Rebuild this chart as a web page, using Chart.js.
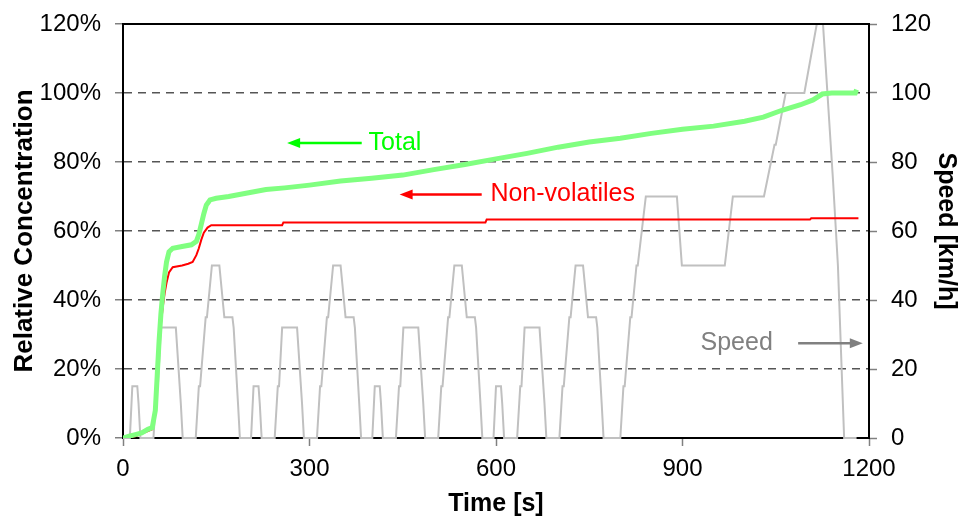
<!DOCTYPE html>
<html>
<head>
<meta charset="utf-8">
<script src="https://cdn.jsdelivr.net/npm/chart.js@4/dist/chart.umd.min.js"></script>
<style>
  html, body { margin: 0; padding: 0; background: #fff; }
  canvas { display: block; }
</style>
</head>
<body>
<canvas id="chart" width="960" height="522"></canvas>
<script>
'use strict';

// Total particle concentration, relative (%)
const totalTime = [0, 10, 20, 30, 40, 47, 52, 55, 58, 61, 64, 67, 70, 74, 80, 95, 110, 118, 122, 126, 130, 134, 140, 150, 170, 200, 230, 260, 300, 350, 400, 450, 500, 550, 600, 650, 700, 750, 800, 850, 900, 950, 1000, 1030, 1060, 1090, 1110, 1125, 1140, 1160, 1178, 1180];
const totalPct  = [0, 0.5, 1, 1.5, 2.5, 3, 8, 18, 28, 36, 42, 47, 51, 54, 55, 55.5, 56, 57, 59, 62, 65, 67.5, 69, 69.5, 70, 71, 72, 72.5, 73.3, 74.5, 75.3, 76.2, 77.8, 79.3, 80.9, 82.5, 84.3, 85.8, 86.9, 88.3, 89.5, 90.4, 91.8, 93, 95, 96.6, 98, 99.7, 100, 100, 100, 101];

// Non-volatile fraction, relative (%)
const nonvolTime = [0, 20, 40, 47, 52, 55, 58, 61, 64, 67, 70, 74, 80, 95, 105, 112, 118, 122, 126, 130, 136, 142, 256, 258, 583, 585, 1105, 1107, 1183];
const nonvolPct  = [0, 0.5, 2, 2.5, 8, 18, 27, 33, 38, 42, 45, 48, 49.5, 50, 50.5, 51, 53, 55, 57.5, 59.5, 61, 61.7, 61.7, 62.5, 62.5, 63.3, 63.3, 63.7, 63.7];

// Vehicle speed (km/h) over the driving cycle
const speedTime = [
  0, 11, 15, 23, 25, 28, 49, 54, 56, 61, 85, 93, 96, 117, 122, 124, 133, 135, 143, 155, 163, 176, 178, 185, 188,
  195, 206, 210, 218, 220, 223, 244, 249, 251, 256, 280, 288, 291, 312, 317, 319, 328, 330, 338, 350, 358, 371, 373, 380, 383,
  390, 401, 405, 413, 415, 418, 439, 444, 446, 451, 475, 483, 486, 507, 512, 514, 523, 525, 533, 545, 553, 566, 568, 575, 578,
  585, 596, 600, 608, 610, 613, 634, 639, 641, 646, 670, 678, 681, 702, 707, 709, 718, 720, 728, 740, 748, 761, 763, 770, 773,
  780, 800, 805, 807, 816, 818, 826, 828, 841, 891, 899, 968, 981, 1031, 1048, 1050, 1066, 1096, 1116, 1126, 1142, 1150, 1160, 1180
];
const speedKmh = [
  0, 0, 15, 15, 10, 0, 0, 15, 15, 32, 32, 10, 0, 0, 15, 15, 35, 35, 50, 50, 35, 35, 32, 10, 0,
  0, 0, 15, 15, 10, 0, 0, 15, 15, 32, 32, 10, 0, 0, 15, 15, 35, 35, 50, 50, 35, 35, 32, 10, 0,
  0, 0, 15, 15, 10, 0, 0, 15, 15, 32, 32, 10, 0, 0, 15, 15, 35, 35, 50, 50, 35, 35, 32, 10, 0,
  0, 0, 15, 15, 10, 0, 0, 15, 15, 32, 32, 10, 0, 0, 15, 15, 35, 35, 50, 50, 35, 35, 32, 10, 0,
  0, 0, 15, 15, 35, 35, 50, 50, 70, 70, 50, 50, 70, 70, 85, 85, 100, 100, 120, 120, 75, 50, 0, 0
];

const xTicks = [0, 300, 600, 900, 1200];
const pctTicks = [0, 20, 40, 60, 80, 100, 120];
const speedTicks = [0, 20, 40, 60, 80, 100, 120];

const pts = (xs, ys) => xs.map((x, i) => ({ x, y: ys[i] }));
const FONT = '"Liberation Sans", Arial, sans-serif';

// arrows + text labels next to the curves
const labelsPlugin = {
  id: 'curveLabels',
  afterDatasetsDraw(chart) {
    const { ctx, scales: { x, y }, chartArea: a } = chart;
    ctx.save();
    // solid frame top
    ctx.strokeStyle = '#000';
    ctx.lineWidth = 2;
    ctx.beginPath();
    ctx.moveTo(a.left, a.top);
    ctx.lineTo(a.right, a.top);
    ctx.stroke();

    const arrow = (x0, x1, yy, color) => {
      const px0 = x.getPixelForValue(x0), px1 = x.getPixelForValue(x1), py = y.getPixelForValue(yy);
      const dir = Math.sign(px1 - px0);
      ctx.strokeStyle = color;
      ctx.fillStyle = color;
      ctx.lineWidth = 2.5;
      ctx.beginPath();
      ctx.moveTo(px0, py);
      ctx.lineTo(px1 - dir * 8, py);
      ctx.stroke();
      ctx.beginPath();
      ctx.moveTo(px1, py);
      ctx.lineTo(px1 - dir * 13, py - 5);
      ctx.lineTo(px1 - dir * 13, py + 5);
      ctx.closePath();
      ctx.fill();
    };
    const text = (str, tx, ty, color) => {
      ctx.fillStyle = color;
      ctx.font = '25px ' + FONT;
      ctx.textAlign = 'left';
      ctx.textBaseline = 'middle';
      ctx.fillText(str, x.getPixelForValue(tx), y.getPixelForValue(ty));
    };
    arrow(384, 264, 85.5, '#00ff00');
    text('Total', 395, 85.5, '#00ff00');
    arrow(577, 445, 70.6, '#ff0000');
    text('Non-volatiles', 591, 70.6, '#ff0000');
    arrow(1086, 1190, 27.5, '#808080');
    text('Speed', 929, 27.5, '#808080');
    ctx.restore();
  }
};

// fixed box sizes so the plot area sits where it does in the original
const fitY = w => s => { s.width = w; s.paddingTop = 0; s.paddingBottom = 0; };

new Chart(document.getElementById('chart'), {
  type: 'line',
  data: {
    datasets: [
      { label: 'Total', data: pts(totalTime, totalPct), yAxisID: 'y',
        borderColor: '#80ff80', borderWidth: 5, pointRadius: 0 },
      { label: 'Non-volatiles', data: pts(nonvolTime, nonvolPct), yAxisID: 'y',
        borderColor: '#ff0000', borderWidth: 2, pointRadius: 0 },
      { label: 'Speed', data: pts(speedTime, speedKmh), yAxisID: 'y1',
        borderColor: '#c0c0c0', borderWidth: 2, pointRadius: 0, clip: 3 },
    ],
  },
  options: {
    responsive: false,
    animation: false,
    layout: { padding: { top: 24, left: 0, right: 0, bottom: 0 } },
    plugins: { legend: { display: false }, tooltip: { enabled: false } },
    scales: {
      x: {
        type: 'linear', min: 0, max: 1200,
        afterFit: s => { s.height = 84; },
        afterBuildTicks: s => { s.ticks = xTicks.map(v => ({ value: v })); },
        grid: { drawOnChartArea: false, tickLength: 8, tickColor: '#808080', tickWidth: 1.5 },
        border: { color: '#000', width: 2 },
        ticks: { color: '#000', padding: 9, font: { family: FONT, size: 24 }, callback: v => String(v) },
        title: { display: true, text: 'Time [s]', color: '#000', padding: { top: 0, bottom: 3 },
          font: { family: FONT, size: 25, weight: 'bold', lineHeight: 1.2 } },
      },
      y: {
        position: 'left', min: 0, max: 120,
        afterFit: fitY(123),
        afterBuildTicks: s => { s.ticks = pctTicks.map(v => ({ value: v })); },
        grid: {
          color: c => (c.tick && (c.tick.value === 0 || c.tick.value === 120)) ? 'rgba(0,0,0,0)' : '#555',
          lineWidth: 1.5, tickLength: 8, tickColor: '#808080', tickWidth: 1.5,
        },
        border: { color: '#000', width: 2, dash: [8, 6] },
        ticks: { color: '#000', padding: 14, font: { family: FONT, size: 24 }, callback: v => v + '%' },
        title: { display: true, text: 'Relative Concentration', color: '#000', padding: { top: 11, bottom: 0 },
          font: { family: FONT, size: 26, weight: 'bold', lineHeight: 1.1 } },
      },
      y1: {
        position: 'right', min: 0, max: 120,
        afterFit: fitY(91),
        afterBuildTicks: s => { s.ticks = speedTicks.map(v => ({ value: v })); },
        grid: { drawOnChartArea: false, tickLength: 8, tickColor: '#808080', tickWidth: 1.5 },
        border: { color: '#000', width: 2 },
        ticks: { color: '#000', padding: 14, font: { family: FONT, size: 24 } },
        title: { display: true, text: 'Speed [km/h]', color: '#000', padding: { top: 0, bottom: 0 },
          font: { family: FONT, size: 25, weight: 'bold', lineHeight: 1.1 } },
      },
    },
  },
  plugins: [labelsPlugin],
});
</script>
</body>
</html>
